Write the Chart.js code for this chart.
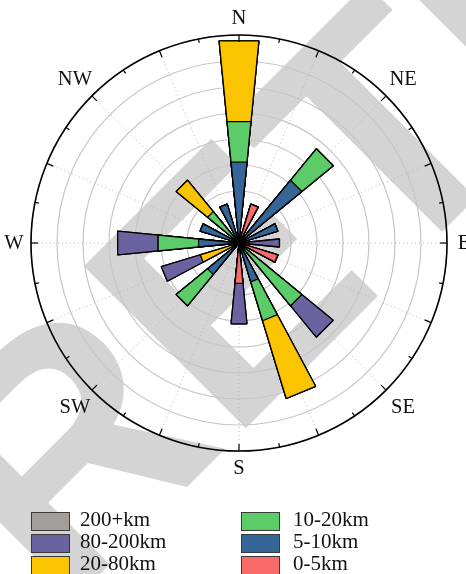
<!DOCTYPE html>
<html>
<head>
<meta charset="utf-8">
<script src="https://cdn.jsdelivr.net/npm/chart.js@4.4.1/dist/chart.umd.min.js"></script>
<style>
  html, body { margin: 0; padding: 0; background: #fff; }
  #wrap { position: relative; width: 466px; height: 574px; overflow: hidden; }
  #rose { position: absolute; left: 0; top: 0; }
  #legend {
    position: absolute; left: 31px; top: 510px;
    display: grid; grid-template-columns: 210px 190px; grid-template-rows: repeat(3, 22px);
    grid-auto-flow: column;
    font-family: "Liberation Serif", serif; font-size: 21px; color: #111;
  }
  .item { display: flex; align-items: center; height: 22px; }
  .swatch { box-sizing: border-box; width: 39px; height: 19px; border: 1.5px solid #3a3a3a; }
  .item span { position: relative; top: -2px; line-height: 1; margin-left: 10px; }
  .item:nth-child(n+4) span { margin-left: 13px; }
</style>
</head>
<body>
<div id="wrap">
  <canvas id="rose" width="466" height="574"></canvas>
  <div id="legend"></div>
</div>
<script>
// 16 compass sectors, frequency in % of all events
const directions = ["N", "NNE", "NE", "ENE", "E", "ESE", "SE", "SSE", "S", "SSW", "SW", "WSW", "W", "WNW", "NW", "NNW"];
const compassLabels = ["N", "NE", "E", "SE", "S", "SW", "W", "NW"];

const classLabels = ["0-5km", "5-10km", "10-20km", "20-80km", "80-200km", "200+km"];
const classColors = ["#f96a6a", "#366598", "#5ccc68", "#fbc400", "#6b63a0", "#a29e9b"];

const freq0to5    = [0, 3.125, 0, 0, 0, 3.125, 0, 0, 3.125, 0, 0, 0, 0, 0, 0, 0];
const freq5to10   = [6.25, 0, 6.25, 3.125, 0, 0, 0, 3.125, 0, 0, 3.125, 0, 3.125, 3.125, 0, 3.125];
const freq10to20  = [3.125, 0, 3.125, 0, 0, 0, 6.25, 3.125, 0, 0, 3.125, 0, 3.125, 0, 3.125, 0];
const freq20to80  = [6.25, 0, 0, 0, 0, 0, 0, 6.25, 0, 0, 0, 3.125, 0, 0, 3.125, 0];
const freq80to200 = [0, 0, 0, 0, 3.125, 0, 3.125, 0, 3.125, 0, 0, 3.125, 3.125, 0, 0, 0];
const freq200plus = [0, 0, 0, 0, 0, 0, 0, 0, 0, 0, 0, 0, 0, 0, 0, 0];

const classFreqs = [freq0to5, freq5to10, freq10to20, freq20to80, freq80to200, freq200plus];

// each sector is a bar slot followed by an empty slot, so bars are half a sector wide
const slotLabels = [];
directions.forEach((d) => { slotLabels.push(d, ""); });

function stackedSlots(upTo) {
  const out = [];
  directions.forEach((d, k) => {
    let sum = 0;
    for (let j = 0; j <= upTo; j++) sum += classFreqs[j][k];
    out.push(sum, 0);
  });
  return out;
}

// cumulative stacks; dataset 0 is drawn last, so the inner class ends on top
const datasets = classLabels.map((label, j) => ({
  label,
  data: stackedSlots(j),
  backgroundColor: classColors[j],
  borderColor: "#000",
  borderWidth: 1.3,
  circular: false
}));

function polarPoint(scale, bearing, dist) {
  const a = (bearing - 90) * Math.PI / 180;
  return { x: scale.xCenter + Math.cos(a) * dist, y: scale.yCenter + Math.sin(a) * dist };
}

const watermark = {
  id: "watermark",
  beforeDraw(chart) {
    const ctx = chart.ctx;
    ctx.save();
    ctx.fillStyle = "#d4d4d4";
    ctx.font = 'bold 333px "Liberation Sans"';
    ctx.translate(60, 614);
    ctx.rotate(-Math.PI / 4);
    ctx.fillText("RETRACTED", 0, 0);
    ctx.restore();
  }
};

const compassRing = {
  id: "compassRing",
  beforeDatasetsDraw(chart) {
    const r = chart.scales.r;
    const outer = r.getDistanceFromCenterForValue(r.max);
    const ctx = chart.ctx;
    ctx.save();
    ctx.strokeStyle = "#b8b8b8";
    ctx.lineWidth = 1;
    ctx.setLineDash([1, 3]);
    directions.forEach((d, k) => {
      const p = polarPoint(r, k * 22.5, outer);
      ctx.beginPath();
      ctx.moveTo(r.xCenter, r.yCenter);
      ctx.lineTo(p.x, p.y);
      ctx.stroke();
    });
    ctx.restore();
  },
  afterDatasetsDraw(chart) {
    const r = chart.scales.r;
    const outer = r.getDistanceFromCenterForValue(r.max);
    const ctx = chart.ctx;
    ctx.save();
    ctx.strokeStyle = "#000";
    ctx.lineWidth = 1.6;
    ctx.beginPath();
    ctx.arc(r.xCenter, r.yCenter, outer, 0, Math.PI * 2);
    ctx.stroke();

    ctx.lineWidth = 1.2;
    for (let i = 0; i < 32; i++) {
      const len = i % 2 === 0 ? 7 : 4;
      const a = polarPoint(r, i * 11.25, outer);
      const b = polarPoint(r, i * 11.25, outer - len);
      ctx.beginPath();
      ctx.moveTo(a.x, a.y);
      ctx.lineTo(b.x, b.y);
      ctx.stroke();
    }

    ctx.fillStyle = "#111";
    ctx.font = '20.5px "Liberation Serif"';
    ctx.textAlign = "center";
    ctx.textBaseline = "middle";
    compassLabels.forEach((lab, i) => {
      const dist = outer + (i % 2 === 0 ? 17 : 24);
      const p = polarPoint(r, i * 45, dist);
      ctx.fillText(lab, p.x, p.y + 1);
    });
    ctx.restore();
  }
};

const chart = new Chart(document.getElementById("rose"), {
  type: "polarArea",
  data: { labels: slotLabels, datasets },
  options: {
    responsive: false,
    animation: false,
    events: [],
    layout: { padding: { left: 31, top: 35, right: 19, bottom: 123 } },
    plugins: {
      legend: { display: false },
      tooltip: { enabled: false }
    },
    scales: {
      r: {
        min: 0,
        max: 16,
        startAngle: -5.625,
        ticks: { display: false, stepSize: 2 },
        grid: { circular: true, color: "#c6c6c6", lineWidth: 1.2 },
        angleLines: { display: false },
        pointLabels: { display: false }
      }
    }
  },
  plugins: [watermark, compassRing]
});

// legend: two columns, outermost class first
const legendEl = document.getElementById("legend");
chart.data.datasets.slice().reverse().forEach((ds) => {
  const item = document.createElement("div");
  item.className = "item";
  item.innerHTML = `<div class="swatch" style="background:${ds.backgroundColor}"></div><span>${ds.label}</span>`;
  legendEl.appendChild(item);
});
</script>
</body>
</html>
